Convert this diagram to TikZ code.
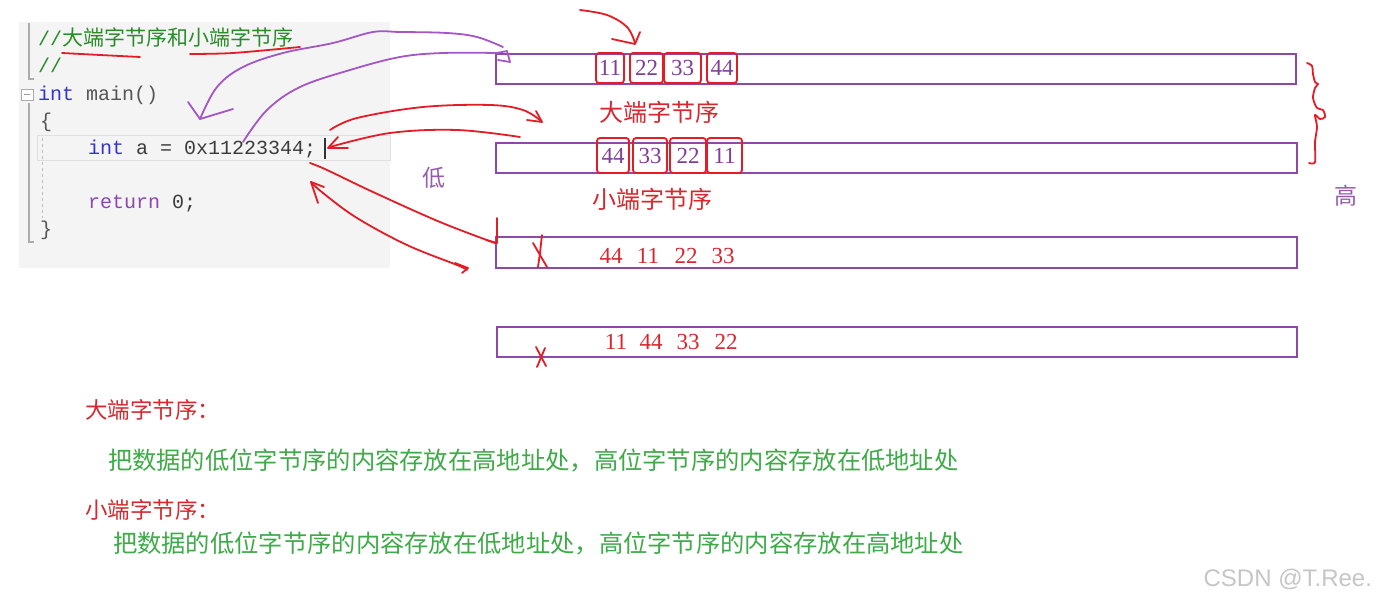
\documentclass[tikz,border=0pt]{standalone}
\usepackage{fontspec}
\setmainfont{Liberation Serif}
\setmonofont{Liberation Mono}
\setsansfont{Liberation Sans}
\newfontfamily\cjk{Noto Sans CJK SC}
\definecolor{rowpurple}{RGB}{142,72,168}
\definecolor{hpurple}{RGB}{163,86,196}
\definecolor{hred}{RGB}{228,28,38}
\definecolor{tred}{RGB}{214,40,46}
\definecolor{bytepurple}{RGB}{128,62,150}
\definecolor{tgreen}{RGB}{62,170,72}
\definecolor{cgreen}{RGB}{40,140,40}
\definecolor{cblue}{RGB}{52,52,205}
\definecolor{cpurple}{RGB}{140,72,172}
\definecolor{cgray}{RGB}{85,85,85}
\definecolor{cdark}{RGB}{60,60,60}
\definecolor{lpurple}{RGB}{150,92,172}
\definecolor{panel}{RGB}{244,244,244}
\begin{document}
\begin{tikzpicture}[x=1pt,y=-1pt,
  txt/.style={inner sep=0pt, outer sep=0pt},
  code/.style={txt, anchor=base west, font=\ttfamily\fontsize{20}{24}\selectfont},
  rowbox/.style={draw=rowpurple, line width=2.2pt, inner sep=0pt, anchor=north west},
  bytebox/.style={draw=hred, line width=1.8pt, rounded corners=3pt, inner sep=0pt,
     text=bytepurple, font=\fontsize{23}{27}\selectfont},
  bytetxt/.style={txt, text=tred, font=\fontsize{23}{27}\selectfont, anchor=base},
  hand/.style={line width=1.8pt, line cap=round, line join=round},
  lbl/.style={txt, font=\cjk\fontsize{24}{28}\selectfont}
]
\useasboundingbox (0,0) rectangle (1376,602);
\fill[white] (0,0) rectangle (1376,602);

% code panel
\fill[panel] (19,22) rectangle (390,268);
\draw[gray!25, line width=1pt] (37,135) rectangle (390,160);
\draw[gray!65, line width=1.1pt] (29,23) -- (29,79) -- (34,79);
\draw[gray!65, line width=1.1pt] (29,103) -- (29,242) -- (34,242);
\draw[gray!65, line width=0.8pt, fill=white] (21,89) rectangle (33,100);
\draw[gray!80, line width=0.9pt] (24,94.5) -- (30,94.5);
\draw[gray!50, line width=0.8pt, dash pattern=on 3pt off 3pt] (42,138) -- (42,218);

\node[code, text=cgreen] (c1) at (38,46) {//{\cjk\fontsize{21}{24}\selectfont 大端字节序和小端字节序}};
\node[code, text=cgreen] (c2) at (38,73) {//};
\node[code] (c3) at (38,100) {\textcolor{cblue}{int} \textcolor{cgray}{main()}};
\node[code, text=cgray] (c4) at (40,127) {\{};
\node[code] (c5) at (88,154) {\textcolor{cblue}{int} \textcolor{cdark}{a = 0x11223344;}};
\node[code] (c6) at (88,208) {\textcolor{cpurple}{return} \textcolor{cdark}{0;}};
\node[code, text=cgray] (c7) at (40,235) {\}};
\draw[black!80, line width=1.2pt] (325,138) -- (325,159);

% memory rows
\node[rowbox, minimum width=800pt, minimum height=30pt] (r1) at (495,53) {};
\node[rowbox, minimum width=801pt, minimum height=30pt] (r2) at (495,142) {};
\node[rowbox, minimum width=801pt, minimum height=31pt] (r3) at (495,236) {};
\node[rowbox, minimum width=800pt, minimum height=30pt] (r4) at (496,326) {};

% byte boxes
\node[bytebox, minimum width=28pt, minimum height=30pt] (a1) at (610,68) {11};
\node[bytebox, minimum width=33pt, minimum height=30pt] (a2) at (646.5,68) {22};
\node[bytebox, minimum width=37pt, minimum height=30pt] (a3) at (682.5,68) {33};
\node[bytebox, minimum width=30pt, minimum height=30pt] (a4) at (722,68) {44};
\node[bytebox, minimum width=32pt, minimum height=35pt] (b1) at (613,155.5) {44};
\node[bytebox, minimum width=34pt, minimum height=35pt] (b2) at (650,155.5) {33};
\node[bytebox, minimum width=36pt, minimum height=35pt] (b3) at (688,155.5) {22};
\node[bytebox, minimum width=35pt, minimum height=35pt] (b4) at (724.5,155.5) {11};

\node[bytetxt] (d1) at (611,263) {44};
\node[bytetxt] (d2) at (648,263) {11};
\node[bytetxt] (d3) at (686,263) {22};
\node[bytetxt] (d4) at (723,263) {33};
\node[bytetxt] (e1) at (616,349) {11};
\node[bytetxt] (e2) at (651,349) {44};
\node[bytetxt] (e3) at (688,349) {33};
\node[bytetxt] (e4) at (726,349) {22};

% labels
\node[lbl, text=tred] (big) at (659,112) {大端字节序};
\node[lbl, text=tred] (small) at (652,199) {小端字节序};
\node[lbl, text=lpurple, font=\cjk\fontsize{23}{27}\selectfont] (low) at (434,178) {低};
\node[lbl, text=lpurple, font=\cjk\fontsize{23}{27}\selectfont] (high) at (1346,196) {高};

% bottom text
\node[txt, anchor=west, text=tred, font=\cjk\fontsize{22.5}{26}\selectfont] (t1) at (85,410) {大端字节序：};
\node[txt, anchor=west, text=tgreen, font=\cjk\fontsize{24.3}{28}\selectfont] (t2) at (108,461) {把数据的低位字节序的内容存放在高地址处，高位字节序的内容存放在低地址处};
\node[txt, anchor=west, text=tred, font=\cjk\fontsize{22.5}{26}\selectfont] (t3) at (85,510) {小端字节序：};
\node[txt, anchor=west, text=tgreen, font=\cjk\fontsize{24.3}{28}\selectfont] (t4) at (113,544) {把数据的低位字节序的内容存放在低地址处，高位字节序的内容存放在高地址处};

\node[txt, anchor=base east, text=gray!45, font=\sffamily\fontsize{24}{28}\selectfont] (wm) at (1372,586) {CSDN @T.Ree.};

% hand-drawn purple
\draw[hand, hpurple] plot[smooth, tension=0.6] coordinates {(503,47) (477,37) (447,33) (400,32) (373,32) (333,43) (283,53) (243,67) (217,87) (200,119)};
\draw[hand, hpurple] (188,102) -- (200,119) -- (233,109);
\draw[hand, hpurple] plot[smooth, tension=0.6] coordinates {(243,142) (267,110) (300,87) (350,70) (400,57) (443,53) (497,53)};
\draw[hand, hpurple] (497,53) -- (507,51) -- (510,62) -- (498,60);

% hand-drawn red
\draw[hand, hred] plot[smooth, tension=0.6] coordinates {(580,10) (607,15) (627,27) (635,43)};
\draw[hand, hred] (612,39) -- (635,44) -- (640,32);
\draw[hand, hred] plot[smooth] coordinates {(62,53) (100,55) (140,57)};
\draw[hand, hred] plot[smooth] coordinates {(190,54) (233,53) (300,47)};
\draw[hand, hred] plot[smooth, tension=0.6] coordinates {(330,130) (357,118) (423,107) (490,105) (523,110) (541,121)};
\draw[hand, hred] (527,120) -- (542,122) -- (536,111);
\draw[hand, hred] plot[smooth, tension=0.6] coordinates {(520,137) (457,130) (390,133) (330,147)};
\draw[hand, hred] (338,137) -- (328,148) -- (348,148);
\draw[hand, hred] plot[smooth, tension=0.6] coordinates {(310,163) (327,170) (373,192) (440,222) (495,243)};
\draw[hand, hred] (497,218) -- (497,243) -- (486,240);
\draw[hand, hred] plot[smooth, tension=0.6] coordinates {(311,182) (323,193) (357,218) (407,245) (457,265) (467,270)};
\draw[hand, hred] (318,203) -- (311,182) -- (324,187);
\draw[hand, hred] (455,263) -- (468,268) -- (462,273);
% crosses
\draw[hand, hred] (542,235) -- (540,253) -- (538,267);
\draw[hand, hred] (533,243) -- (547,267);
\draw[hand, hred] (536,347) -- (546,366);
\draw[hand, hred] (545,348) -- (537,367);
% brace
\draw[hand, hred] plot[smooth, tension=0.5] coordinates {(1307,63) (1312,66) (1313,74) (1315,82) (1318,84) (1315,88) (1313,98) (1317,108) (1323,110) (1325,117) (1320,119) (1315,115) (1317,127) (1315,142) (1315,162) (1309,163)};
\end{tikzpicture}
\end{document}
